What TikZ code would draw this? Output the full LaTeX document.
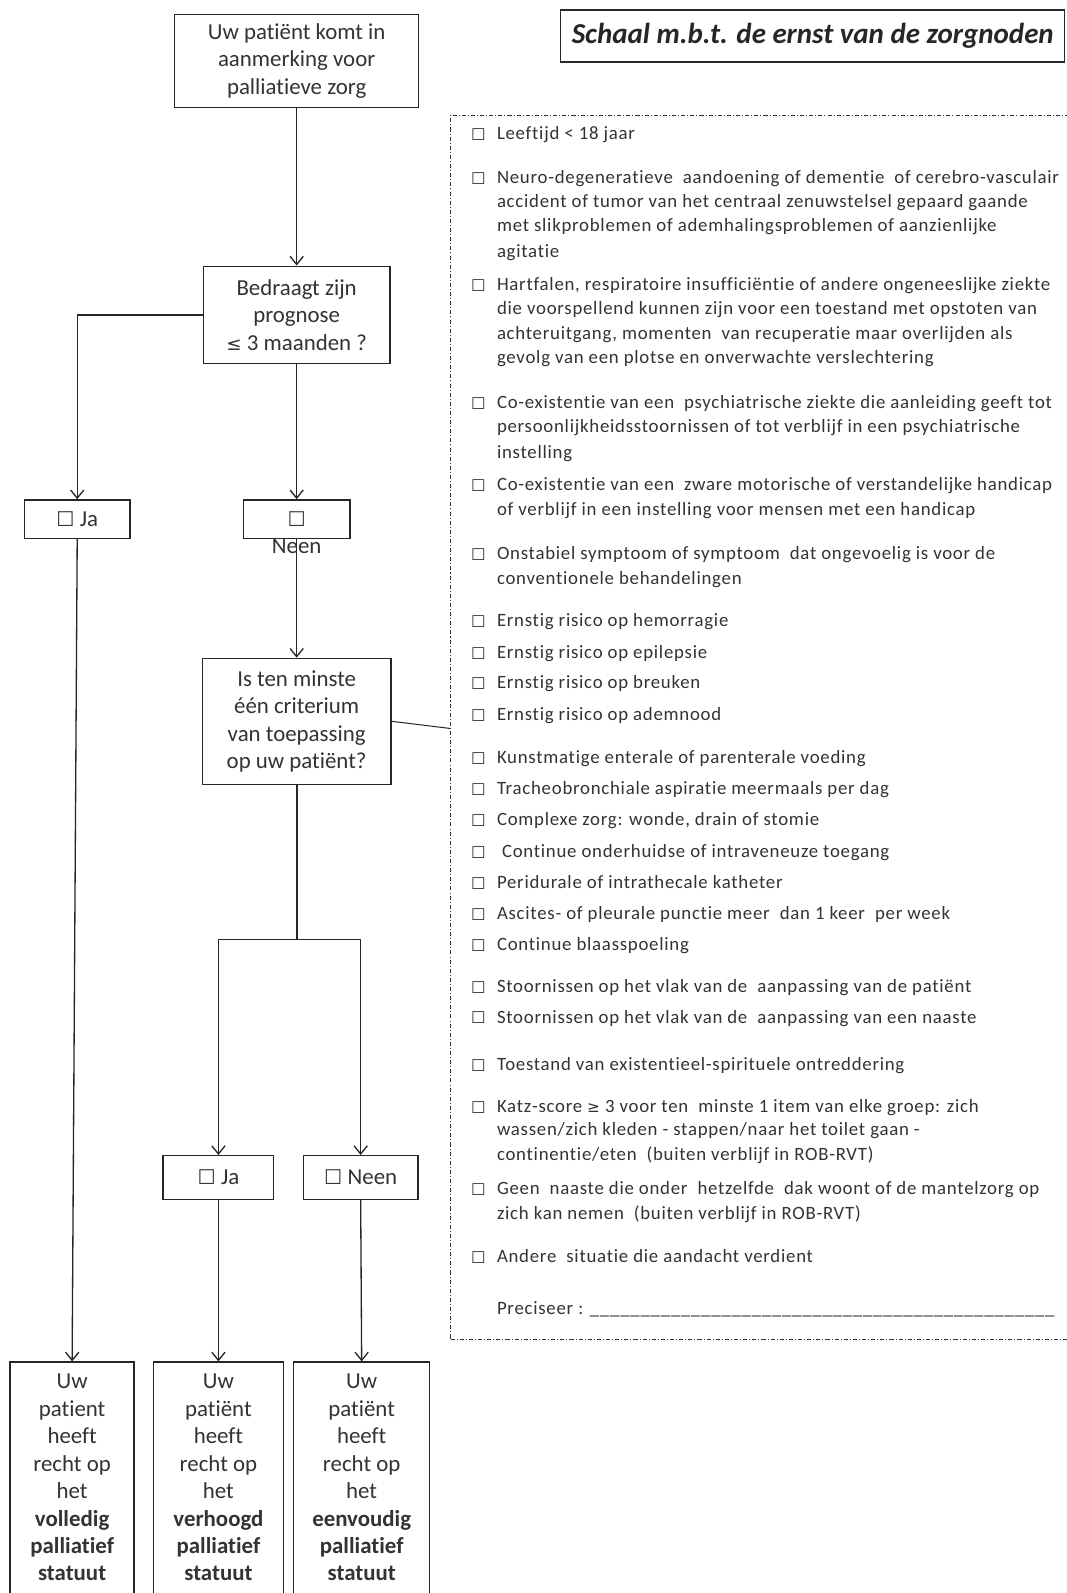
\documentclass[tikz,border=0pt]{standalone}
\usepackage{fontspec}
\setmainfont{Carlito}[Ligatures=NoCommon]
\newfontfamily\symfont{DejaVu Sans}
\newfontfamily\listfont{Carlito}[LetterSpace=4,Ligatures=NoCommon]
\usetikzlibrary{arrows.meta}
\tikzset{
  fbox/.style={draw=black!85, line width=1.3pt, fill=white, align=center, text=black!80,
    font=\fontsize{22.5}{27}\selectfont, inner sep=0pt},
  conn/.style={draw=black!85, line width=1.3pt},
  arr/.style={conn, -{Straight Barb[length=8pt,width=13pt,line width=1.3pt]}},
  listtxt/.style={anchor=base west, inner sep=0pt, text=black!80, font=\listfont\fontsize{18.5}{24}\selectfont},
  chk/.style={inner sep=0pt, text=black!80, font=\symfont\fontsize{16}{16}\selectfont},
  dashdot/.style={draw=black!80, line width=1pt, dash pattern=on 4pt off 2pt on 1pt off 2pt},
}
\newcommand{\bigchk}{{\symfont\fontsize{20}{20}\selectfont ☐}}
\newcommand{\crit}[3]{\node[chk] (#1box) at (471,#2) {☐}; \node[listtxt] (#1) at (489,{#2+5}) {#3};}
\newcommand{\critcont}[3]{\node[listtxt] (#1) at (489,{#2+5}) {#3};}

\begin{document}
\begin{tikzpicture}[x=1pt,y=-1pt]
\clip (0,0) rectangle (1050,1568);
\fill[white] (0,0) rectangle (1050,1568);

% ---------- flowchart ----------
\node[fbox, minimum width=240pt, minimum height=92pt] (top) at (292,60)
  {Uw patiënt komt in\\aanmerking voor\\palliatieve zorg};
\node[fbox, minimum width=184pt, minimum height=96pt] (bedr) at (292,310)
  {Bedraagt zijn\\prognose\\{\symfont\fontsize{18}{18}\selectfont ≤} 3 maanden ?};
\node[fbox, minimum width=104pt, minimum height=38pt] (ja) at (76,511) {\bigchk\ Ja};
\node[fbox, minimum width=105pt, minimum height=38pt] (neen) at (292,511) {\bigchk};
\node[inner sep=0pt, text=black!80, font=\fontsize{22.5}{27}\selectfont] (neenlbl) at (292,538) {Neen};
\node[fbox, minimum width=186pt, minimum height=124pt] (isb) at (292,710)
  {Is ten minste\\één criterium\\van toepassing\\op uw patiënt?};
\node[fbox, minimum width=109pt, minimum height=43pt] (ja2) at (215,1159) {\bigchk\ Ja};
\node[fbox, minimum width=113pt, minimum height=43pt] (neen2) at (355,1159) {\bigchk\ Neen};

\node[fbox, anchor=north, minimum width=122pt, inner ysep=12pt] (res1) at (71,1340)
  {Uw\\patient\\heeft\\recht op\\het\\\textbf{volledig}\\\textbf{palliatief}\\\textbf{statuut}\\ \mbox{}};
\node[fbox, anchor=north, minimum width=128pt, inner ysep=12pt] (res2) at (215,1340)
  {Uw\\patiënt\\heeft\\recht op\\het\\\textbf{verhoogd}\\\textbf{palliatief}\\\textbf{statuut}\\ \mbox{}};
\node[fbox, anchor=north, minimum width=134pt, inner ysep=12pt] (res3) at (356,1340)
  {Uw\\patiënt\\heeft\\recht op\\het\\\textbf{eenvoudig}\\\textbf{palliatief}\\\textbf{statuut}\\ \mbox{}};

\coordinate (jc) at (292,925);
\coordinate (jl) at (215,925);
\coordinate (jr) at (355,925);

\draw[arr] (top.south) -- (bedr.north);
\draw[arr] (bedr.west) -| (ja.north);
\draw[arr] (bedr.south) -- (neen.north);
\draw[arr] (neen.south) -- (isb.north);
\draw[conn, line width=2pt] (isb.south) -- (jc);
\draw[conn] (jl) -- (jr);
\draw[arr] (jl) -- (ja2.north);
\draw[arr] (jr) -- (neen2.north);
\draw[arr] (ja.south) -- (res1.north);
\draw[arr] (ja2.south) -- (res2.north);
\draw[arr] (neen2.south) -- (res3.north);

% ---------- right side ----------
\node[fbox, font=\bfseries\itshape\fontsize{28.5}{30}\selectfont, text=black!85,
  minimum width=496pt, minimum height=51pt] (title) at (800,35.5)
  {Schaal m.b.t. de ernst van de zorgnoden};

\node[dashdot, anchor=north west, minimum width=620pt, minimum height=1205pt, inner sep=0pt] (crit) at (443,113) {};
\coordinate (critin) at (443,717);
\draw[conn, line width=1pt] (isb.east) -- (critin);

\crit{c1}{132}{Leeftijd < 18 jaar}
\crit{c2}{176}{Neuro-degeneratieve \ aandoening of dementie \ of cerebro-vasculair}
\critcont{c2b}{199}{accident of tumor van het centraal zenuwstelsel gepaard gaande}
\critcont{c2c}{223}{met slikproblemen of ademhalingsproblemen of aanzienlijke}
\critcont{c2d}{248}{agitatie}
\crit{c3}{281}{Hartfalen, respiratoire insufficiëntie of andere ongeneeslijke ziekte}
\critcont{c3b}{305}{die voorspellend kunnen zijn voor een toestand met opstoten van}
\critcont{c3c}{329}{achteruitgang, momenten \ van recuperatie maar overlijden als}
\critcont{c3d}{353}{gevolg van een plotse en onverwachte verslechtering}
\crit{c4}{397}{Co-existentie van een \ psychiatrische ziekte die aanleiding geeft tot}
\critcont{c4b}{421}{persoonlijkheidsstoornissen of tot verblijf in een psychiatrische}
\critcont{c4c}{446}{instelling}
\crit{c5}{478}{Co-existentie van een \ zware motorische of verstandelijke handicap}
\critcont{c5b}{502}{of verblijf in een instelling voor mensen met een handicap}
\crit{c6}{546}{Onstabiel symptoom of symptoom \ dat ongevoelig is voor de}
\critcont{c6b}{570}{conventionele behandelingen}
\crit{c7}{612}{Ernstig risico op hemorragie}
\crit{c8}{643}{Ernstig risico op epilepsie}
\crit{c9}{673}{Ernstig risico op breuken}
\crit{c10}{704}{Ernstig risico op ademnood}
\crit{c11}{747}{Kunstmatige enterale of parenterale voeding}
\crit{c12}{777}{Tracheobronchiale aspiratie meermaals per dag}
\crit{c13}{808}{Complexe zorg: wonde, drain of stomie}
\crit{c14}{839}{\ Continue onderhuidse of intraveneuze toegang}
\crit{c15}{870}{Peridurale of intrathecale katheter}
\crit{c16}{900}{Ascites- of pleurale punctie meer \ dan 1 keer \ per week}
\crit{c17}{931}{Continue blaasspoeling}
\crit{c18}{972}{Stoornissen op het vlak van de \ aanpassing van de patiënt}
\crit{c19}{1002}{Stoornissen op het vlak van de \ aanpassing van een naaste}
\crit{c20}{1049}{Toestand van existentieel-spirituele ontreddering}
\crit{c21}{1090}{Katz-score {\symfont\fontsize{15}{15}\selectfont ≥} 3 voor ten \ minste 1 item van elke groep: zich}
\critcont{c21b}{1113}{wassen/zich kleden - stappen/naar het toilet gaan -}
\critcont{c21c}{1137}{continentie/eten \ (buiten verblijf in ROB-RVT)}
\crit{c22}{1171}{Geen \ naaste die onder \ hetzelfde \ dak woont of de mantelzorg op}
\critcont{c22b}{1195}{zich kan nemen \ (buiten verblijf in ROB-RVT)}
\crit{c23}{1238}{Andere \ situatie die aandacht verdient}
\critcont{prec}{1289}{Preciseer : \_\_\_\_\_\_\_\_\_\_\_\_\_\_\_\_\_\_\_\_\_\_\_\_\_\_\_\_\_\_\_\_\_\_\_\_\_\_\_\_\_\_\_\_\_\_}
\end{tikzpicture}
\end{document}
